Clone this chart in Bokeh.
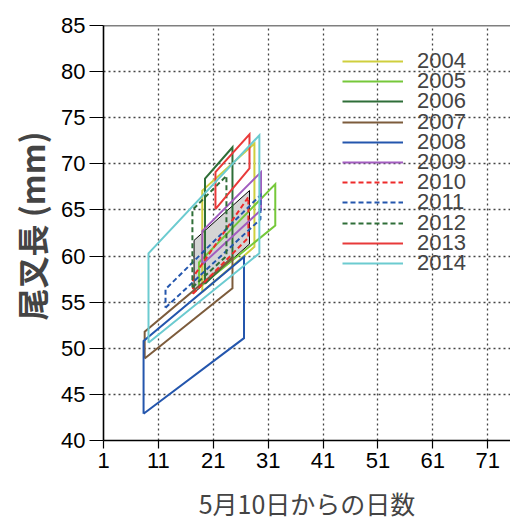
from bokeh.plotting import figure
from bokeh.models import Range1d, Span, Title, Legend, LegendItem, FixedTicker
from bokeh.embed import file_html
from bokeh.resources import INLINE

# ---- data ----
years = ["2004", "2005", "2006", "2007", "2008", "2009",
         "2010", "2011", "2012", "2013", "2014"]
# days since 10 May: first and last day of each year's box
x_start = [19.0, 18.4, 19.5, 8.5, 8.3, 19.0, 17.3, 12.3, 17.2, 21.4, 9.2]
x_end = [28.5, 32.3, 24.5, 24.5, 26.6, 29.7, 27.4, 29.6, 23.4, 27.6, 29.4]
# fork length (mm): lower and upper bounds at first and last day
low_start = [56.1, 56.6, 57.0, 48.9, 42.9, 59.1, 55.9, 54.4, 56.6, 65.1, 50.6]
low_end = [61.0, 63.3, 59.9, 56.5, 51.1, 65.0, 62.0, 64.0, 60.0, 69.5, 60.3]
up_start = [67.1, 59.3, 68.4, 51.8, 50.8, 62.7, 57.7, 56.4, 65.0, 69.1, 60.3]
up_end = [72.2, 67.8, 71.8, 59.8, 59.9, 69.1, 66.4, 66.6, 68.7, 73.2, 73.1]

# mean (shaded) box
mean_x = [17.5, 27.6]
mean_low = [56.0, 61.3]
mean_up = [61.7, 67.1]

colors = ["#cfcf3e", "#76c83a", "#2f6e38", "#7d5c3c", "#2456ad", "#a25dbf",
          "#ee2b2b", "#2456ad", "#2f6e38", "#e83a3a", "#6ccbd0"]
dashes = ["solid", "solid", "solid", "solid", "solid", "solid",
          "5 3", "5 3", "5 3", "solid", "solid"]

x_ticks = [1, 11, 21, 31, 41, 51, 61, 71]
y_ticks = [40, 45, 50, 55, 60, 65, 70, 75, 80, 85]

FONT = "Liberation Sans"
CJK = "Noto Sans CJK JP"

p = figure(width=510, height=523, output_backend="svg", toolbar_location=None,
           x_range=Range1d(1, 75.16), y_range=Range1d(40, 85),
           min_border_left=101, min_border_right=0, min_border_top=25,
           min_border_bottom=83)
p.outline_line_color = None
p.background_fill_color = "white"
p.border_fill_color = "white"

# axes
for ax in (p.xaxis[0], p.yaxis[0]):
    ax.axis_line_color = "black"
    ax.axis_line_width = 1.6
    ax.major_tick_line_color = "black"
    ax.major_tick_line_width = 1.2
    ax.minor_tick_line_color = None
    ax.major_tick_in = 0
    ax.major_label_text_font = FONT
    ax.major_label_text_font_size = "22px"
    ax.major_label_text_color = "black"
p.xaxis[0].ticker = FixedTicker(ticks=x_ticks)
p.yaxis[0].ticker = FixedTicker(ticks=y_ticks)
p.xaxis[0].major_tick_out = 8
p.yaxis[0].major_tick_out = 14
p.xaxis[0].major_label_standoff = 4
p.yaxis[0].major_label_standoff = 4
p.xaxis[0].axis_label = "5月10日からの日数"
p.xaxis[0].axis_label_text_font = CJK
p.xaxis[0].axis_label_text_font_style = "normal"
p.xaxis[0].axis_label_text_font_size = "25px"
p.xaxis[0].axis_label_standoff = 14

# grid
for g in (p.xgrid[0], p.ygrid[0]):
    g.grid_line_color = "#444444"
    g.grid_line_dash = "2 3"
    g.grid_line_width = 1.3
p.xgrid[0].ticker = FixedTicker(ticks=x_ticks[1:])
p.ygrid[0].ticker = FixedTicker(ticks=y_ticks[1:-1])

# top border
p.add_layout(Span(location=85, dimension="width", line_color="black", line_width=1.6))

# shaded mean box
p.patch([mean_x[0], mean_x[1], mean_x[1], mean_x[0]],
        [mean_low[0], mean_low[1], mean_up[1], mean_up[0]],
        fill_color="#d4d4d4", line_color="black", line_width=1)

# one single-entry legend per year, stacked with a 20 px pitch
LEG_X = 239          # px from the frame's left edge
FIRST_CENTER = 379   # px above the frame's bottom for the first entry
PITCH = 20.2
HALF = 13            # half the entry height for a 22px label

for i, yr in enumerate(years):
    xs = [x_start[i], x_end[i], x_end[i], x_start[i], x_start[i]]
    ys = [low_start[i], low_end[i], up_end[i], up_start[i], low_start[i]]
    r = p.line(xs, ys, line_color=colors[i], line_width=2, line_dash=dashes[i],
               line_join="miter")
    leg = Legend(items=[LegendItem(label=yr, renderers=[r])],
                 location=(LEG_X, round(FIRST_CENTER - i * PITCH - HALF)))
    leg.border_line_color = None
    leg.background_fill_alpha = 0
    leg.padding = 0
    leg.margin = 0
    leg.glyph_width = 61
    leg.glyph_height = 20
    leg.label_height = 20
    leg.label_standoff = 14
    leg.label_text_font = FONT
    leg.label_text_font_size = "22px"
    p.add_layout(leg, "center")

# y-axis title
p.add_layout(Title(text="尾叉長 (mm)", align="left", offset=120, standoff=10,
                   text_font=CJK, text_font_style="bold", text_font_size="32px"),
             "left")

open("out.html", "w").write(file_html(p, INLINE))
